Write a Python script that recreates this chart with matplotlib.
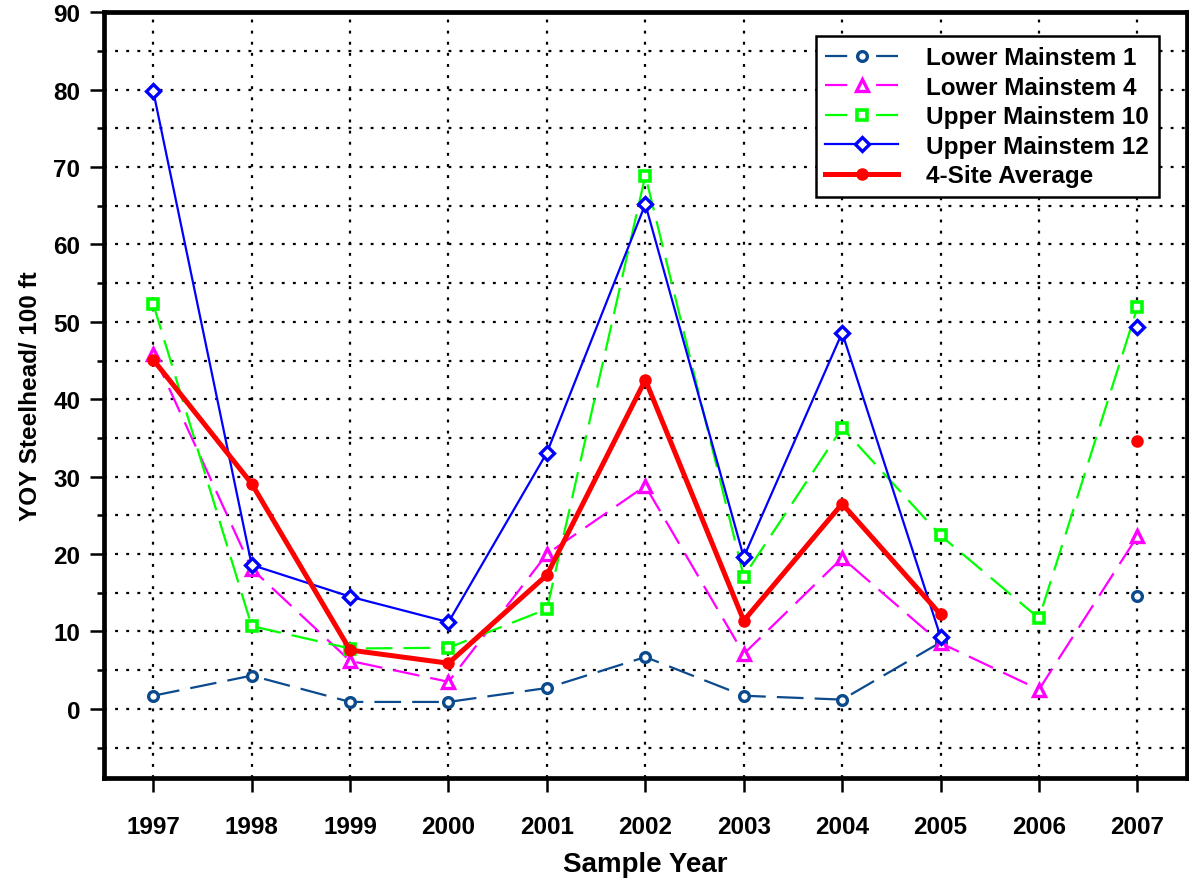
import numpy as np
import matplotlib
matplotlib.use("Agg")
import matplotlib.pyplot as plt
from matplotlib.ticker import MultipleLocator

plt.rcParams['font.family'] = ['Liberation Sans', 'DejaVu Sans']
plt.rcParams['font.weight'] = 'bold'

years = [1997, 1998, 1999, 2000, 2001, 2002, 2003, 2004, 2005, 2006, 2007]
nan = np.nan
lower_mainstem_1 = [1.7, 4.3, 0.9, 0.9, 2.7, 6.7, 1.7, 1.2, 8.6, nan, 14.6]
lower_mainstem_4 = [45.9, 18.1, 6.2, 3.5, 20.0, 28.8, 7.1, 19.5, 8.5, 2.5, 22.3]
upper_mainstem_10 = [52.3, 10.7, 7.8, 7.9, 12.9, 68.9, 17.1, 36.3, 22.4, 11.7, 51.9]
upper_mainstem_12 = [79.8, 18.6, 14.5, 11.2, 33.1, 65.2, 19.6, 48.6, 9.3, nan, 49.3]
site_average = [45.1, 29.1, 7.6, 5.9, 17.3, 42.5, 11.4, 26.5, 12.2, nan, 34.6]

labels = ['Lower Mainstem 1', 'Lower Mainstem 4', 'Upper Mainstem 10',
          'Upper Mainstem 12', '4-Site Average']

fig = plt.figure(figsize=(11.89, 8.79), dpi=100)
ax = fig.add_axes([0.0875, 0.114, 0.9105, 0.871])

ax.plot(years, lower_mainstem_1, color='#0B4A8C', lw=1.6, dashes=(12, 5),
        marker='o', ms=7, mfc='white', mec='#0B4A8C', mew=2.4, label=labels[0], zorder=3)
ax.plot(years, lower_mainstem_4, color='#FF00FF', lw=1.6, dashes=(12, 5),
        marker='^', ms=8, mfc='white', mec='#FF00FF', mew=2.4, label=labels[1], zorder=3)
ax.plot(years, upper_mainstem_10, color='#00FF00', lw=1.6, dashes=(12, 5),
        marker='s', ms=7, mfc='white', mec='#00FF00', mew=2.6, label=labels[2], zorder=3)
ax.plot(years, upper_mainstem_12, color='#0000FF', lw=1.6, ls='-',
        marker='D', ms=7, mfc='white', mec='#0000FF', mew=2.4, label=labels[3], zorder=4)
ax.plot(years, site_average, color='#FF0000', lw=3.6, ls='-',
        marker='o', ms=8, mfc='#FF0000', mec='#FF0000', label=labels[4], zorder=5)

ax.set_xlim(1996.5, 2007.5)
ax.set_ylim(-8.9, 90)
ax.set_xticks(years)
ax.set_xticklabels([str(y) for y in years])
ax.yaxis.set_major_locator(MultipleLocator(10))
ax.yaxis.set_minor_locator(MultipleLocator(5))

ax.grid(True, which='both', axis='y', color='black', ls=(0, (1.3, 3.7)), lw=1.6)
ax.grid(True, which='major', axis='x', color='black', ls=(0, (1.3, 3.7)), lw=1.6)

for s in ax.spines.values():
    s.set_linewidth(3.4)
ax.tick_params(axis='both', which='major', direction='out', length=10, width=1.8,
               labelsize=17.5)
ax.tick_params(axis='y', which='minor', direction='out', length=5, width=1.8)
ax.tick_params(axis='x', which='major', pad=17)
ax.tick_params(axis='y', which='major', pad=7)
for lab in ax.get_xticklabels() + ax.get_yticklabels():
    lab.set_fontweight('bold')

ax.set_xlabel('Sample Year', fontsize=20, fontweight='bold', labelpad=9)
ax.set_ylabel('YOY Steelhead/ 100 ft', fontsize=17.5, fontweight='bold', labelpad=8)

leg = ax.legend(loc='upper right', bbox_to_anchor=(0.9743, 0.9685), fontsize=17.5,
                frameon=True, fancybox=False, edgecolor='black', framealpha=1,
                handlelength=3.0, handletextpad=1.15, labelspacing=0.27,
                borderpad=0.4, borderaxespad=0)
leg.get_frame().set_linewidth(1.8)
for t in leg.get_texts():
    t.set_fontweight('bold')
for h in leg.get_lines()[:3]:
    h.set_dashes((10, 13))

fig.savefig('out.png', dpi=100)
